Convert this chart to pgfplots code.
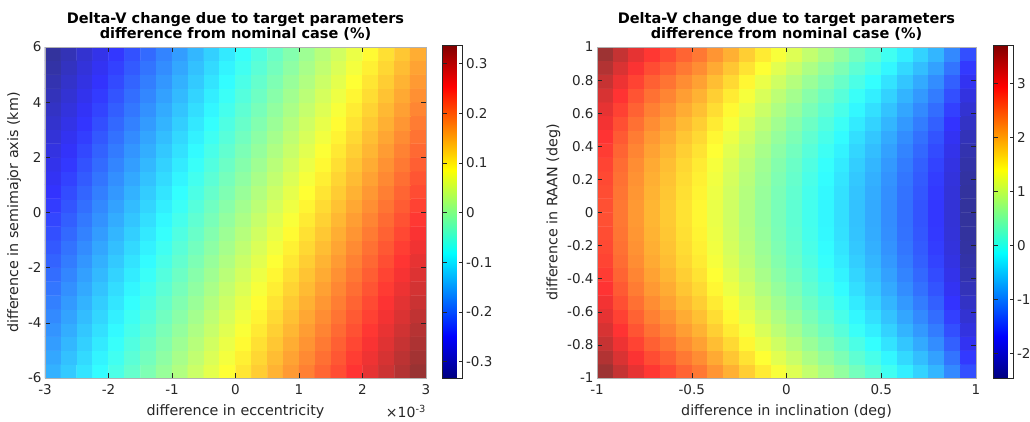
\documentclass[border=0pt]{standalone}
\usepackage{pgfplots}
\usepackage{pgfplotstable}
\pgfplotsset{compat=1.18}
\usepackage{fontspec}
\setmainfont{DejaVu Sans}
\definecolor{axgray}{RGB}{38,38,38}
\pgfplotsset{
  colormap={mjet}{rgb255(0cm)=(0,0,128) rgb255(1cm)=(0,0,255) rgb255(3cm)=(0,255,255) rgb255(5cm)=(255,255,0) rgb255(7cm)=(255,0,0) rgb255(8cm)=(128,0,0)},
  colormap={fjet}{rgb255(0cm)=(51,51,153) rgb255(1cm)=(51,51,255) rgb255(3cm)=(51,255,255) rgb255(5cm)=(255,255,51) rgb255(7cm)=(255,51,51) rgb255(8cm)=(153,51,51)},
  heat/.style={
    scale only axis, height=331pt,
    xmin=-0.5, xmax=23.5, ymin=-0.5, ymax=23.5,
    axis on top, clip mode=individual,
    tick align=inside, major tick length=5pt,
    tick style={axgray, line width=0.5pt},
    axis line style={black!30},
    font=\fontsize{13.5}{15}\selectfont,
    tick label style={text=axgray, font=\fontsize{13.5}{15}\selectfont},
    xticklabel style={yshift=-3pt},
    label style={text=axgray, font=\fontsize{14.3}{16}\selectfont},
    xlabel style={yshift=-3pt},
    title style={font=\fontsize{14.5}{14}\selectfont\bfseries, align=center, text=black, yshift=-3pt},
    colormap name=fjet,
    colorbar,
  },
  cbar/.style={
    colormap name=mjet,
    at={(parent axis.south east)}, anchor=south west,
    width=20pt, height=333pt, scale only axis,
    yticklabel pos=right,
    tick align=inside, major tick length=4pt,
    tick style={axgray, line width=0.5pt},
    axis line style={axgray},
    tick label style={text=axgray, font=\fontsize{13.5}{15}\selectfont},
  },
}
\pgfplotstableread{
x y z
0 0 -0.146
1 0 -0.125
2 0 -0.104
3 0 -0.083
4 0 -0.062
5 0 -0.041
6 0 -0.020
7 0 0.001
8 0 0.022
9 0 0.043
10 0 0.064
11 0 0.085
12 0 0.106
13 0 0.127
14 0 0.148
15 0 0.169
16 0 0.190
17 0 0.211
18 0 0.232
19 0 0.253
20 0 0.274
21 0 0.295
22 0 0.316
23 0 0.337
0 1 -0.154
1 1 -0.133
2 1 -0.112
3 1 -0.091
4 1 -0.070
5 1 -0.049
6 1 -0.028
7 1 -0.007
8 1 0.014
9 1 0.035
10 1 0.056
11 1 0.077
12 1 0.098
13 1 0.119
14 1 0.140
15 1 0.161
16 1 0.182
17 1 0.203
18 1 0.224
19 1 0.245
20 1 0.266
21 1 0.287
22 1 0.308
23 1 0.329
0 2 -0.162
1 2 -0.141
2 2 -0.120
3 2 -0.099
4 2 -0.078
5 2 -0.057
6 2 -0.036
7 2 -0.015
8 2 0.006
9 2 0.027
10 2 0.048
11 2 0.069
12 2 0.090
13 2 0.111
14 2 0.132
15 2 0.153
16 2 0.174
17 2 0.195
18 2 0.216
19 2 0.237
20 2 0.258
21 2 0.279
22 2 0.300
23 2 0.321
0 3 -0.170
1 3 -0.149
2 3 -0.128
3 3 -0.107
4 3 -0.086
5 3 -0.065
6 3 -0.044
7 3 -0.023
8 3 -0.002
9 3 0.019
10 3 0.040
11 3 0.061
12 3 0.082
13 3 0.103
14 3 0.124
15 3 0.145
16 3 0.166
17 3 0.187
18 3 0.208
19 3 0.229
20 3 0.250
21 3 0.271
22 3 0.292
23 3 0.313
0 4 -0.178
1 4 -0.157
2 4 -0.136
3 4 -0.115
4 4 -0.094
5 4 -0.073
6 4 -0.052
7 4 -0.031
8 4 -0.010
9 4 0.011
10 4 0.032
11 4 0.053
12 4 0.074
13 4 0.095
14 4 0.116
15 4 0.137
16 4 0.158
17 4 0.179
18 4 0.200
19 4 0.221
20 4 0.242
21 4 0.263
22 4 0.284
23 4 0.305
0 5 -0.186
1 5 -0.165
2 5 -0.144
3 5 -0.123
4 5 -0.102
5 5 -0.081
6 5 -0.060
7 5 -0.039
8 5 -0.018
9 5 0.003
10 5 0.024
11 5 0.045
12 5 0.066
13 5 0.087
14 5 0.108
15 5 0.129
16 5 0.150
17 5 0.171
18 5 0.192
19 5 0.213
20 5 0.234
21 5 0.255
22 5 0.276
23 5 0.297
0 6 -0.194
1 6 -0.173
2 6 -0.152
3 6 -0.131
4 6 -0.110
5 6 -0.089
6 6 -0.068
7 6 -0.047
8 6 -0.026
9 6 -0.005
10 6 0.016
11 6 0.037
12 6 0.058
13 6 0.079
14 6 0.100
15 6 0.121
16 6 0.142
17 6 0.163
18 6 0.184
19 6 0.205
20 6 0.226
21 6 0.247
22 6 0.268
23 6 0.289
0 7 -0.202
1 7 -0.181
2 7 -0.160
3 7 -0.139
4 7 -0.118
5 7 -0.097
6 7 -0.076
7 7 -0.055
8 7 -0.034
9 7 -0.013
10 7 0.008
11 7 0.029
12 7 0.050
13 7 0.071
14 7 0.092
15 7 0.113
16 7 0.134
17 7 0.155
18 7 0.176
19 7 0.197
20 7 0.218
21 7 0.239
22 7 0.260
23 7 0.281
0 8 -0.210
1 8 -0.189
2 8 -0.168
3 8 -0.147
4 8 -0.126
5 8 -0.105
6 8 -0.084
7 8 -0.063
8 8 -0.042
9 8 -0.021
10 8 0.000
11 8 0.021
12 8 0.042
13 8 0.063
14 8 0.084
15 8 0.105
16 8 0.126
17 8 0.147
18 8 0.168
19 8 0.189
20 8 0.210
21 8 0.231
22 8 0.252
23 8 0.273
0 9 -0.218
1 9 -0.197
2 9 -0.176
3 9 -0.155
4 9 -0.134
5 9 -0.113
6 9 -0.092
7 9 -0.071
8 9 -0.050
9 9 -0.029
10 9 -0.008
11 9 0.013
12 9 0.034
13 9 0.055
14 9 0.076
15 9 0.097
16 9 0.118
17 9 0.139
18 9 0.160
19 9 0.181
20 9 0.202
21 9 0.223
22 9 0.244
23 9 0.265
0 10 -0.226
1 10 -0.205
2 10 -0.184
3 10 -0.163
4 10 -0.142
5 10 -0.121
6 10 -0.100
7 10 -0.079
8 10 -0.058
9 10 -0.037
10 10 -0.016
11 10 0.005
12 10 0.026
13 10 0.047
14 10 0.068
15 10 0.089
16 10 0.110
17 10 0.131
18 10 0.152
19 10 0.173
20 10 0.194
21 10 0.215
22 10 0.236
23 10 0.257
0 11 -0.234
1 11 -0.213
2 11 -0.192
3 11 -0.171
4 11 -0.150
5 11 -0.129
6 11 -0.108
7 11 -0.087
8 11 -0.066
9 11 -0.045
10 11 -0.024
11 11 -0.003
12 11 0.018
13 11 0.039
14 11 0.060
15 11 0.081
16 11 0.102
17 11 0.123
18 11 0.144
19 11 0.165
20 11 0.186
21 11 0.207
22 11 0.228
23 11 0.249
0 12 -0.242
1 12 -0.221
2 12 -0.200
3 12 -0.179
4 12 -0.158
5 12 -0.137
6 12 -0.116
7 12 -0.095
8 12 -0.074
9 12 -0.053
10 12 -0.032
11 12 -0.011
12 12 0.010
13 12 0.031
14 12 0.052
15 12 0.073
16 12 0.094
17 12 0.115
18 12 0.136
19 12 0.157
20 12 0.178
21 12 0.199
22 12 0.220
23 12 0.241
0 13 -0.250
1 13 -0.229
2 13 -0.208
3 13 -0.187
4 13 -0.166
5 13 -0.145
6 13 -0.124
7 13 -0.103
8 13 -0.082
9 13 -0.061
10 13 -0.040
11 13 -0.019
12 13 0.002
13 13 0.023
14 13 0.044
15 13 0.065
16 13 0.086
17 13 0.107
18 13 0.128
19 13 0.149
20 13 0.170
21 13 0.191
22 13 0.212
23 13 0.233
0 14 -0.258
1 14 -0.237
2 14 -0.216
3 14 -0.195
4 14 -0.174
5 14 -0.153
6 14 -0.132
7 14 -0.111
8 14 -0.090
9 14 -0.069
10 14 -0.048
11 14 -0.027
12 14 -0.006
13 14 0.015
14 14 0.036
15 14 0.057
16 14 0.078
17 14 0.099
18 14 0.120
19 14 0.141
20 14 0.162
21 14 0.183
22 14 0.204
23 14 0.225
0 15 -0.266
1 15 -0.245
2 15 -0.224
3 15 -0.203
4 15 -0.182
5 15 -0.161
6 15 -0.140
7 15 -0.119
8 15 -0.098
9 15 -0.077
10 15 -0.056
11 15 -0.035
12 15 -0.014
13 15 0.007
14 15 0.028
15 15 0.049
16 15 0.070
17 15 0.091
18 15 0.112
19 15 0.133
20 15 0.154
21 15 0.175
22 15 0.196
23 15 0.217
0 16 -0.274
1 16 -0.253
2 16 -0.232
3 16 -0.211
4 16 -0.190
5 16 -0.169
6 16 -0.148
7 16 -0.127
8 16 -0.106
9 16 -0.085
10 16 -0.064
11 16 -0.043
12 16 -0.022
13 16 -0.001
14 16 0.020
15 16 0.041
16 16 0.062
17 16 0.083
18 16 0.104
19 16 0.125
20 16 0.146
21 16 0.167
22 16 0.188
23 16 0.209
0 17 -0.282
1 17 -0.261
2 17 -0.240
3 17 -0.219
4 17 -0.198
5 17 -0.177
6 17 -0.156
7 17 -0.135
8 17 -0.114
9 17 -0.093
10 17 -0.072
11 17 -0.051
12 17 -0.030
13 17 -0.009
14 17 0.012
15 17 0.033
16 17 0.054
17 17 0.075
18 17 0.096
19 17 0.117
20 17 0.138
21 17 0.159
22 17 0.180
23 17 0.201
0 18 -0.290
1 18 -0.269
2 18 -0.248
3 18 -0.227
4 18 -0.206
5 18 -0.185
6 18 -0.164
7 18 -0.143
8 18 -0.122
9 18 -0.101
10 18 -0.080
11 18 -0.059
12 18 -0.038
13 18 -0.017
14 18 0.004
15 18 0.025
16 18 0.046
17 18 0.067
18 18 0.088
19 18 0.109
20 18 0.130
21 18 0.151
22 18 0.172
23 18 0.193
0 19 -0.298
1 19 -0.277
2 19 -0.256
3 19 -0.235
4 19 -0.214
5 19 -0.193
6 19 -0.172
7 19 -0.151
8 19 -0.130
9 19 -0.109
10 19 -0.088
11 19 -0.067
12 19 -0.046
13 19 -0.025
14 19 -0.004
15 19 0.017
16 19 0.038
17 19 0.059
18 19 0.080
19 19 0.101
20 19 0.122
21 19 0.143
22 19 0.164
23 19 0.185
0 20 -0.306
1 20 -0.285
2 20 -0.264
3 20 -0.243
4 20 -0.222
5 20 -0.201
6 20 -0.180
7 20 -0.159
8 20 -0.138
9 20 -0.117
10 20 -0.096
11 20 -0.075
12 20 -0.054
13 20 -0.033
14 20 -0.012
15 20 0.009
16 20 0.030
17 20 0.051
18 20 0.072
19 20 0.093
20 20 0.114
21 20 0.135
22 20 0.156
23 20 0.177
0 21 -0.314
1 21 -0.293
2 21 -0.272
3 21 -0.251
4 21 -0.230
5 21 -0.209
6 21 -0.188
7 21 -0.167
8 21 -0.146
9 21 -0.125
10 21 -0.104
11 21 -0.083
12 21 -0.062
13 21 -0.041
14 21 -0.020
15 21 0.001
16 21 0.022
17 21 0.043
18 21 0.064
19 21 0.085
20 21 0.106
21 21 0.127
22 21 0.148
23 21 0.169
0 22 -0.322
1 22 -0.301
2 22 -0.280
3 22 -0.259
4 22 -0.238
5 22 -0.217
6 22 -0.196
7 22 -0.175
8 22 -0.154
9 22 -0.133
10 22 -0.112
11 22 -0.091
12 22 -0.070
13 22 -0.049
14 22 -0.028
15 22 -0.007
16 22 0.014
17 22 0.035
18 22 0.056
19 22 0.077
20 22 0.098
21 22 0.119
22 22 0.140
23 22 0.161
0 23 -0.330
1 23 -0.309
2 23 -0.288
3 23 -0.267
4 23 -0.246
5 23 -0.225
6 23 -0.204
7 23 -0.183
8 23 -0.162
9 23 -0.141
10 23 -0.120
11 23 -0.099
12 23 -0.078
13 23 -0.057
14 23 -0.036
15 23 -0.015
16 23 0.006
17 23 0.027
18 23 0.048
19 23 0.069
20 23 0.090
21 23 0.111
22 23 0.132
23 23 0.153
}\lefttable
\pgfplotstableread{
x y z
0 0 3.68
1 0 3.38
2 0 3.13
3 0 2.91
4 0 2.76
5 0 2.57
6 0 2.42
7 0 2.20
8 0 1.99
9 0 1.77
10 0 1.55
11 0 1.34
12 0 1.15
13 0 0.94
14 0 0.75
15 0 0.57
16 0 0.35
17 0 0.17
18 0 -0.05
19 0 -0.27
20 0 -0.48
21 0 -0.70
22 0 -1.04
23 0 -1.48
0 1 3.52
1 1 3.22
2 1 2.97
3 1 2.75
4 1 2.60
5 1 2.41
6 1 2.26
7 1 2.04
8 1 1.83
9 1 1.61
10 1 1.39
11 1 1.18
12 1 0.99
13 1 0.78
14 1 0.59
15 1 0.41
16 1 0.19
17 1 0.01
18 1 -0.21
19 1 -0.43
20 1 -0.64
21 1 -0.86
22 1 -1.20
23 1 -1.64
0 2 3.37
1 2 3.07
2 2 2.82
3 2 2.60
4 2 2.45
5 2 2.26
6 2 2.11
7 2 1.89
8 2 1.68
9 2 1.46
10 2 1.24
11 2 1.03
12 2 0.84
13 2 0.63
14 2 0.44
15 2 0.26
16 2 0.04
17 2 -0.14
18 2 -0.36
19 2 -0.58
20 2 -0.79
21 2 -1.01
22 2 -1.35
23 2 -1.79
0 3 3.24
1 3 2.94
2 3 2.69
3 3 2.47
4 3 2.32
5 3 2.13
6 3 1.98
7 3 1.76
8 3 1.55
9 3 1.33
10 3 1.11
11 3 0.90
12 3 0.71
13 3 0.50
14 3 0.31
15 3 0.13
16 3 -0.09
17 3 -0.27
18 3 -0.49
19 3 -0.71
20 3 -0.92
21 3 -1.14
22 3 -1.48
23 3 -1.92
0 4 3.13
1 4 2.83
2 4 2.58
3 4 2.36
4 4 2.21
5 4 2.02
6 4 1.87
7 4 1.65
8 4 1.44
9 4 1.22
10 4 1.00
11 4 0.79
12 4 0.60
13 4 0.39
14 4 0.20
15 4 0.02
16 4 -0.20
17 4 -0.38
18 4 -0.60
19 4 -0.82
20 4 -1.03
21 4 -1.25
22 4 -1.59
23 4 -2.03
0 5 3.03
1 5 2.73
2 5 2.48
3 5 2.26
4 5 2.11
5 5 1.92
6 5 1.77
7 5 1.55
8 5 1.34
9 5 1.12
10 5 0.90
11 5 0.69
12 5 0.50
13 5 0.29
14 5 0.10
15 5 -0.08
16 5 -0.30
17 5 -0.48
18 5 -0.70
19 5 -0.92
20 5 -1.13
21 5 -1.35
22 5 -1.69
23 5 -2.13
0 6 2.94
1 6 2.64
2 6 2.39
3 6 2.17
4 6 2.02
5 6 1.83
6 6 1.68
7 6 1.46
8 6 1.25
9 6 1.03
10 6 0.81
11 6 0.60
12 6 0.41
13 6 0.20
14 6 0.01
15 6 -0.17
16 6 -0.39
17 6 -0.57
18 6 -0.79
19 6 -1.01
20 6 -1.22
21 6 -1.44
22 6 -1.78
23 6 -2.22
0 7 2.87
1 7 2.57
2 7 2.32
3 7 2.10
4 7 1.95
5 7 1.76
6 7 1.61
7 7 1.39
8 7 1.18
9 7 0.96
10 7 0.74
11 7 0.53
12 7 0.34
13 7 0.13
14 7 -0.06
15 7 -0.24
16 7 -0.46
17 7 -0.64
18 7 -0.86
19 7 -1.08
20 7 -1.29
21 7 -1.51
22 7 -1.85
23 7 -2.29
0 8 2.81
1 8 2.51
2 8 2.26
3 8 2.04
4 8 1.89
5 8 1.70
6 8 1.55
7 8 1.33
8 8 1.12
9 8 0.90
10 8 0.68
11 8 0.47
12 8 0.28
13 8 0.07
14 8 -0.12
15 8 -0.30
16 8 -0.52
17 8 -0.70
18 8 -0.92
19 8 -1.14
20 8 -1.35
21 8 -1.57
22 8 -1.91
23 8 -2.35
0 9 2.77
1 9 2.47
2 9 2.22
3 9 2.00
4 9 1.85
5 9 1.66
6 9 1.51
7 9 1.29
8 9 1.08
9 9 0.86
10 9 0.64
11 9 0.43
12 9 0.24
13 9 0.03
14 9 -0.16
15 9 -0.34
16 9 -0.56
17 9 -0.74
18 9 -0.96
19 9 -1.18
20 9 -1.39
21 9 -1.61
22 9 -1.95
23 9 -2.39
0 10 2.74
1 10 2.44
2 10 2.19
3 10 1.97
4 10 1.82
5 10 1.63
6 10 1.48
7 10 1.26
8 10 1.05
9 10 0.83
10 10 0.61
11 10 0.40
12 10 0.21
13 10 0.00
14 10 -0.19
15 10 -0.37
16 10 -0.59
17 10 -0.77
18 10 -0.99
19 10 -1.21
20 10 -1.42
21 10 -1.64
22 10 -1.98
23 10 -2.42
0 11 2.72
1 11 2.42
2 11 2.17
3 11 1.95
4 11 1.80
5 11 1.61
6 11 1.46
7 11 1.24
8 11 1.03
9 11 0.81
10 11 0.59
11 11 0.38
12 11 0.19
13 11 -0.02
14 11 -0.21
15 11 -0.39
16 11 -0.61
17 11 -0.79
18 11 -1.01
19 11 -1.23
20 11 -1.44
21 11 -1.66
22 11 -2.00
23 11 -2.44
0 12 2.72
1 12 2.42
2 12 2.17
3 12 1.95
4 12 1.80
5 12 1.61
6 12 1.46
7 12 1.24
8 12 1.03
9 12 0.81
10 12 0.59
11 12 0.38
12 12 0.19
13 12 -0.02
14 12 -0.21
15 12 -0.39
16 12 -0.61
17 12 -0.79
18 12 -1.01
19 12 -1.23
20 12 -1.44
21 12 -1.66
22 12 -2.00
23 12 -2.44
0 13 2.74
1 13 2.44
2 13 2.19
3 13 1.97
4 13 1.82
5 13 1.63
6 13 1.48
7 13 1.26
8 13 1.05
9 13 0.83
10 13 0.61
11 13 0.40
12 13 0.21
13 13 0.00
14 13 -0.19
15 13 -0.37
16 13 -0.59
17 13 -0.77
18 13 -0.99
19 13 -1.21
20 13 -1.42
21 13 -1.64
22 13 -1.98
23 13 -2.42
0 14 2.77
1 14 2.47
2 14 2.22
3 14 2.00
4 14 1.85
5 14 1.66
6 14 1.51
7 14 1.29
8 14 1.08
9 14 0.86
10 14 0.64
11 14 0.43
12 14 0.24
13 14 0.03
14 14 -0.16
15 14 -0.34
16 14 -0.56
17 14 -0.74
18 14 -0.96
19 14 -1.18
20 14 -1.39
21 14 -1.61
22 14 -1.95
23 14 -2.39
0 15 2.81
1 15 2.51
2 15 2.26
3 15 2.04
4 15 1.89
5 15 1.70
6 15 1.55
7 15 1.33
8 15 1.12
9 15 0.90
10 15 0.68
11 15 0.47
12 15 0.28
13 15 0.07
14 15 -0.12
15 15 -0.30
16 15 -0.52
17 15 -0.70
18 15 -0.92
19 15 -1.14
20 15 -1.35
21 15 -1.57
22 15 -1.91
23 15 -2.35
0 16 2.87
1 16 2.57
2 16 2.32
3 16 2.10
4 16 1.95
5 16 1.76
6 16 1.61
7 16 1.39
8 16 1.18
9 16 0.96
10 16 0.74
11 16 0.53
12 16 0.34
13 16 0.13
14 16 -0.06
15 16 -0.24
16 16 -0.46
17 16 -0.64
18 16 -0.86
19 16 -1.08
20 16 -1.29
21 16 -1.51
22 16 -1.85
23 16 -2.29
0 17 2.94
1 17 2.64
2 17 2.39
3 17 2.17
4 17 2.02
5 17 1.83
6 17 1.68
7 17 1.46
8 17 1.25
9 17 1.03
10 17 0.81
11 17 0.60
12 17 0.41
13 17 0.20
14 17 0.01
15 17 -0.17
16 17 -0.39
17 17 -0.57
18 17 -0.79
19 17 -1.01
20 17 -1.22
21 17 -1.44
22 17 -1.78
23 17 -2.22
0 18 3.03
1 18 2.73
2 18 2.48
3 18 2.26
4 18 2.11
5 18 1.92
6 18 1.77
7 18 1.55
8 18 1.34
9 18 1.12
10 18 0.90
11 18 0.69
12 18 0.50
13 18 0.29
14 18 0.10
15 18 -0.08
16 18 -0.30
17 18 -0.48
18 18 -0.70
19 18 -0.92
20 18 -1.13
21 18 -1.35
22 18 -1.69
23 18 -2.13
0 19 3.13
1 19 2.83
2 19 2.58
3 19 2.36
4 19 2.21
5 19 2.02
6 19 1.87
7 19 1.65
8 19 1.44
9 19 1.22
10 19 1.00
11 19 0.79
12 19 0.60
13 19 0.39
14 19 0.20
15 19 0.02
16 19 -0.20
17 19 -0.38
18 19 -0.60
19 19 -0.82
20 19 -1.03
21 19 -1.25
22 19 -1.59
23 19 -2.03
0 20 3.24
1 20 2.94
2 20 2.69
3 20 2.47
4 20 2.32
5 20 2.13
6 20 1.98
7 20 1.76
8 20 1.55
9 20 1.33
10 20 1.11
11 20 0.90
12 20 0.71
13 20 0.50
14 20 0.31
15 20 0.13
16 20 -0.09
17 20 -0.27
18 20 -0.49
19 20 -0.71
20 20 -0.92
21 20 -1.14
22 20 -1.48
23 20 -1.92
0 21 3.37
1 21 3.07
2 21 2.82
3 21 2.60
4 21 2.45
5 21 2.26
6 21 2.11
7 21 1.89
8 21 1.68
9 21 1.46
10 21 1.24
11 21 1.03
12 21 0.84
13 21 0.63
14 21 0.44
15 21 0.26
16 21 0.04
17 21 -0.14
18 21 -0.36
19 21 -0.58
20 21 -0.79
21 21 -1.01
22 21 -1.35
23 21 -1.79
0 22 3.52
1 22 3.22
2 22 2.97
3 22 2.75
4 22 2.60
5 22 2.41
6 22 2.26
7 22 2.04
8 22 1.83
9 22 1.61
10 22 1.39
11 22 1.18
12 22 0.99
13 22 0.78
14 22 0.59
15 22 0.41
16 22 0.19
17 22 0.01
18 22 -0.21
19 22 -0.43
20 22 -0.64
21 22 -0.86
22 22 -1.20
23 22 -1.64
0 23 3.68
1 23 3.38
2 23 3.13
3 23 2.91
4 23 2.76
5 23 2.57
6 23 2.42
7 23 2.20
8 23 1.99
9 23 1.77
10 23 1.55
11 23 1.34
12 23 1.15
13 23 0.94
14 23 0.75
15 23 0.57
16 23 0.35
17 23 0.17
18 23 -0.05
19 23 -0.27
20 23 -0.48
21 23 -0.70
22 23 -1.04
23 23 -1.48
}\righttable
\begin{document}
\begin{tikzpicture}
\useasboundingbox (-45pt,-43pt) rectangle (985pt,378pt);
\begin{axis}[heat,
  at={(0pt,0pt)}, anchor=south west, width=381pt,
  point meta min=-0.333, point meta max=0.337,
  xtick={-0.5,3.5,7.5,11.5,15.5,19.5,23.5},
  xticklabels={-3,-2,-1,0,1,2,3},
  ytick={-0.5,3.5,7.5,11.5,15.5,19.5,23.5},
  yticklabels={-6,-4,-2,0,2,4,6},
  xlabel={difference in eccentricity},
  ylabel={difference in semimajor axis (km)},
  title={Delta-V change due to target parameters\\difference from nominal case (\%)},
  colorbar style={cbar, xshift=8pt,
    ytick={-0.3,-0.2,-0.1,0,0.1,0.2,0.3},
    yticklabels={-0.3,-0.2,-0.1,0,0.1,0.2,0.3}},
]
\addplot[matrix plot*, mesh/cols=24, point meta=explicit] table[x=x, y=y, meta=z] {\lefttable};
\node[anchor=north east, text=axgray, font=\fontsize{14}{15}\selectfont, inner sep=0pt] at (rel axis cs:1,0) [yshift=-27pt] {×10\textsuperscript{-3}};
\end{axis}
\begin{axis}[heat,
  at={(552pt,0pt)}, anchor=south west, width=379pt,
  point meta min=-2.46, point meta max=3.71,
  xtick={-0.5,5.5,11.5,17.5,23.5},
  xticklabels={-1,-0.5,0,0.5,1},
  ytick={-0.5,1.9,4.3,6.7,9.1,11.5,13.9,16.3,18.7,21.1,23.5},
  yticklabels={-1,-0.8,-0.6,-0.4,-0.2,0,0.2,0.4,0.6,0.8,1},
  xlabel={difference in inclination (deg)},
  ylabel={difference in RAAN (deg)},
  title={Delta-V change due to target parameters\\difference from nominal case (\%)},
  colorbar style={cbar, xshift=9pt,
    ytick={-2,-1,0,1,2,3},
    yticklabels={-2,-1,0,1,2,3}},
]
\addplot[matrix plot*, mesh/cols=24, point meta=explicit] table[x=x, y=y, meta=z] {\righttable};
\end{axis}
\end{tikzpicture}
\end{document}
